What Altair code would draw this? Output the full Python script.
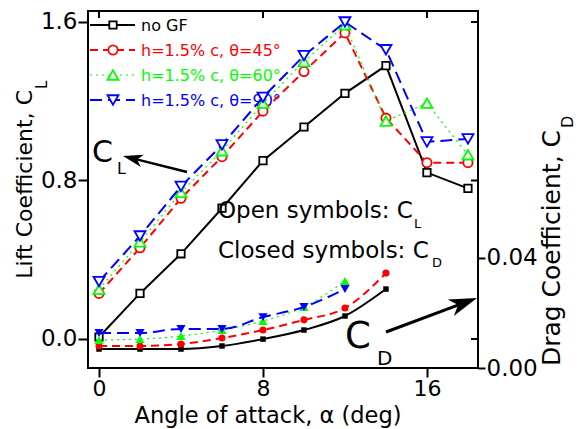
import math
import altair as alt
import pandas as pd

# ---------------- data ----------------
alpha = [0, 2, 4, 6, 8, 10, 12, 14, 16, 18]
cl_nogf = [0.01, 0.23, 0.43, 0.66, 0.90, 1.07, 1.24, 1.38, 0.84, 0.76]
cl_45 = [0.23, 0.46, 0.71, 0.92, 1.15, 1.35, 1.545, 1.115, 0.89, 0.89]
cl_60 = [0.25, 0.49, 0.74, 0.95, 1.19, 1.40, 1.585, 1.10, 1.19, 0.93]
cl_90 = [0.29, 0.52, 0.77, 0.98, 1.22, 1.43, 1.60, 1.46, 0.995, 1.01]

alpha_cd_long = [0, 2, 4, 6, 8, 10, 12, 14]
alpha_cd_short = [0, 2, 4, 6, 8, 10, 12]
cd_nogf = [0.0069, 0.0069, 0.0069, 0.0080, 0.0105, 0.0138, 0.0189, 0.0287]
cd_45 = [0.0080, 0.0080, 0.0087, 0.0109, 0.0138, 0.0175, 0.0218, 0.0345]
cd_60 = [0.0102, 0.0105, 0.0116, 0.0138, 0.0171, 0.0222, 0.0316]
cd_90 = [0.0127, 0.0127, 0.0142, 0.0142, 0.0185, 0.0222, 0.0287]

series_keys = ["nogf", "t45", "t60", "t90"]
series_labels = ["no GF", "h=1.5% c, θ=45°", "h=1.5% c, θ=60°", "h=1.5% c, θ=90°"]

x_tick_values = [0, 8, 16]
cl_tick_values = [0.0, 0.8, 1.6]
cd_tick_values = [0.0, 0.04]

# ---------------- styles ----------------
FONT = "DejaVu Sans"
RED, GREEN, BLUE = "#FF0000", "#00FF00", "#0000FF"
styles = {
    "nogf": dict(color="black", dash=None, width=2, shape="square", size=55, cd_size=30),
    "t45": dict(color=RED, dash=[8, 5], width=2, shape="circle", size=85, cd_size=50),
    "t60": dict(color=GREEN, dash=[2, 4], width=1.2, shape="triangle-up", size=120, cd_size=85),
    "t90": dict(color=BLUE, dash=[12, 6], width=2, shape="triangle-down", size=120, cd_size=85),
}

cl_df = pd.concat([
    pd.DataFrame({"alpha": alpha, "value": v, "series": k})
    for k, v in zip(series_keys, [cl_nogf, cl_45, cl_60, cl_90])
])
cd_df = pd.concat([
    pd.DataFrame({"alpha": a, "value": v, "series": k})
    for k, a, v in zip(series_keys,
                       [alpha_cd_long, alpha_cd_long, alpha_cd_short, alpha_cd_short],
                       [cd_nogf, cd_45, cd_60, cd_90])
])
one = pd.DataFrame({"k": [0]})

X = alt.X("alpha:Q",
          scale=alt.Scale(domain=[-0.537, 18.49], nice=False, zero=False),
          axis=alt.Axis(values=x_tick_values, format="d", tickSize=9, labelPadding=1,
                        labelFontSize=22, title=None))
YL = alt.Y("value:Q",
           scale=alt.Scale(domain=[-0.1464, 1.6555], nice=False, zero=False),
           axis=alt.Axis(values=cl_tick_values, format=".1f", tickSize=10, labelPadding=1,
                         title=None, orient="left"))
YR = alt.Y("value:Q",
           scale=alt.Scale(domain=[0, 0.1298], nice=False, zero=False),
           axis=alt.Axis(values=cd_tick_values, format=".2f", tickSize=7, labelPadding=1,
                         title=None, orient="right"))


def line_kw(st, interpolate=None):
    kw = dict(color=st["color"], strokeWidth=st["width"])
    if st["dash"]:
        kw["strokeDash"] = st["dash"]
    if interpolate:
        kw["interpolate"] = interpolate
    return kw


def txt(s, x, y, size, color="black", align="left", angle=0, baseline="alphabetic"):
    kw = dict(text=s, font=FONT, fontSize=size, color=color, align=align, baseline=baseline)
    if angle:
        kw["angle"] = angle
    return alt.Chart(one).mark_text(**kw).encode(x=alt.value(x), y=alt.value(y))


ARROW_PATH = "M0,0L0.5,1.6L0,1.15L-0.5,1.6Z"


def arrow(tail, tip, width, head_size):
    dx, dy = tip[0] - tail[0], tip[1] - tail[1]
    L = math.hypot(dx, dy)
    ux, uy = dx / L, dy / L
    s = math.sqrt(head_size) / 2
    back = 1.6 * s * 0.6
    end = (tip[0] - ux * back, tip[1] - uy * back)
    shaft = alt.Chart(one).mark_rule(color="black", strokeWidth=width).encode(
        x=alt.value(tail[0]), y=alt.value(tail[1]), x2=alt.value(end[0]), y2=alt.value(end[1]))
    ang = (math.degrees(math.atan2(ux, -uy)) + 360) % 360
    head = alt.Chart(one).mark_point(shape=ARROW_PATH, size=head_size, angle=ang,
                                     filled=True, color="black", opacity=1).encode(
        x=alt.value(tip[0]), y=alt.value(tip[1]))
    return [shaft, head]


# ---------------- legend (top-left inside the frame) ----------------
legend_layers = []
rows = [14, 39, 64, 89]
for key, label, ry in zip(series_keys, series_labels, rows):
    st = styles[key]
    rk = dict(color=st["color"], strokeWidth=st["width"])
    if st["dash"]:
        rk["strokeDash"] = st["dash"]
    legend_layers.append(alt.Chart(one).mark_rule(**rk).encode(
        x=alt.value(2), x2=alt.value(47), y=alt.value(ry)))
    legend_layers.append(alt.Chart(one).mark_point(
        shape=st["shape"], size=st["size"], filled=True, fill="white",
        stroke=st["color"], strokeWidth=1.8, opacity=1).encode(x=alt.value(25), y=alt.value(ry)))
    legend_layers.append(txt(label, 53, ry + 6, 16, color=st["color"]))

# ---------------- CL layer ----------------
cl_layers = [
    alt.Chart(pd.DataFrame({"alpha": x_tick_values})).mark_rule(color="black", strokeWidth=2).encode(
        x=X, y=alt.value(0), y2=alt.value(7)),
    alt.Chart(pd.DataFrame({"value": cl_tick_values})).mark_rule(color="black", strokeWidth=2).encode(
        y=YL, x=alt.value(383), x2=alt.value(390)),
]
for key in series_keys:
    st = styles[key]
    base = alt.Chart(cl_df).transform_filter(alt.datum.series == key)
    cl_layers.append(base.mark_line(**line_kw(st)).encode(x=X, y=YL))
    cl_layers.append(base.mark_point(shape=st["shape"], size=st["size"], filled=True, fill="white",
                                     stroke=st["color"], strokeWidth=1.8, opacity=1).encode(x=X, y=YL))
cl_layer = alt.layer(*cl_layers)

# ---------------- CD layer ----------------
cd_layers = []
for key in series_keys:
    st = styles[key]
    base = alt.Chart(cd_df).transform_filter(alt.datum.series == key)
    cd_layers.append(base.mark_line(**line_kw(st, "monotone")).encode(x=X, y=YR))
    cd_layers.append(base.mark_point(shape=st["shape"], size=st["cd_size"], filled=True,
                                     color=st["color"], opacity=1).encode(x=X, y=YR))
cd_layer = alt.layer(*cd_layers)

# ---------------- annotations ----------------
annot = [
    txt("Open symbols: C", 130, 207, 23),
    txt("L", 326, 217, 13),
    txt("Closed symbols: C", 130, 247, 23),
    txt("D", 344, 256, 13),
    txt("C", 4, 151, 30),
    txt("L", 29, 163, 16),
    txt("C", 257, 337, 37),
    txt("D", 289, 354, 20),
    # x axis title
    txt("Angle of attack, α (deg)", 180, 412, 22.5, align="center"),
    # left axis title
    txt("Lift Coefficient, C", -56, 79, 22, align="right", angle=270),
    txt("L", -41, 78, 15, align="left", angle=270),
    # right axis title
    txt("Drag Coefficient, C", 472, 119, 25, align="right", angle=270),
    txt("D", 485, 117, 16, align="left", angle=270),
]
annot += arrow((99, 161), (35, 145), 2.5, 625)
annot += arrow((298, 321), (389, 287), 3, 1225)

chart = alt.layer(
    alt.layer(*legend_layers), cl_layer, cd_layer, alt.layer(*annot)
).resolve_scale(y="independent").properties(
    width=390, height=357,
    autosize=alt.AutoSizeParams(type="none"),
    padding={"left": 88, "top": 11, "right": 108, "bottom": 61},
).configure_view(stroke="black", strokeWidth=2).configure_axis(
    labelFont=FONT, labelFontSize=23, labelColor="black",
    tickColor="black", tickWidth=2, domain=False, grid=False,
    titleFont=FONT, titleColor="black", titleFontWeight="normal",
)

chart.save("out.html", embed_options={"renderer": "svg", "actions": False})
